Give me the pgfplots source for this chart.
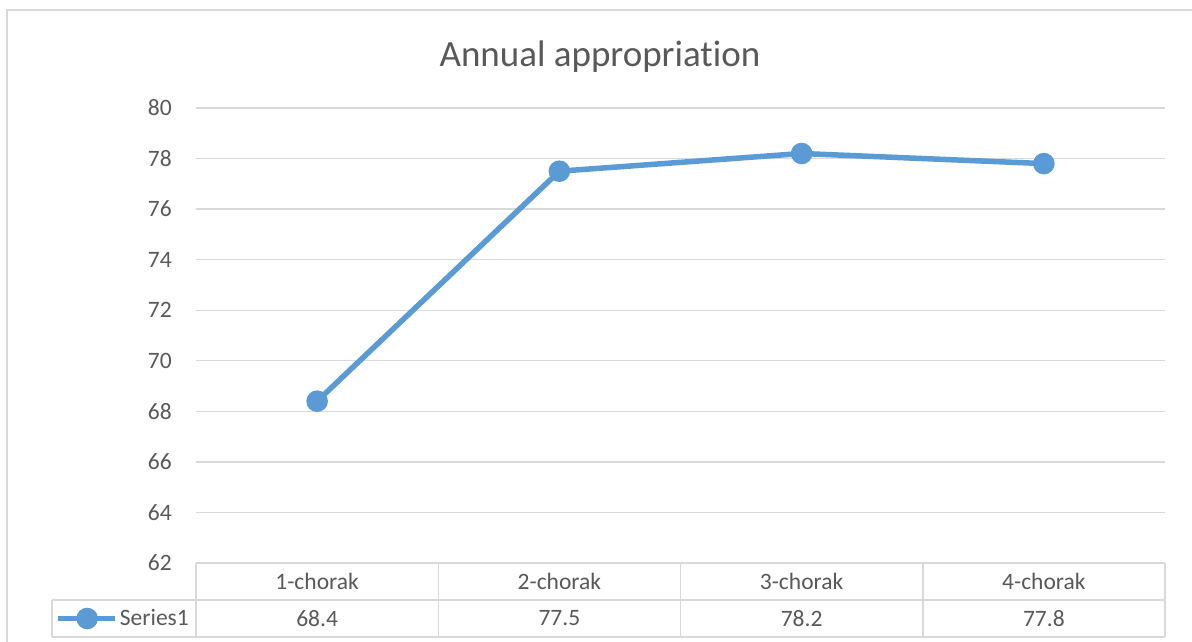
\documentclass[border=0pt]{standalone}
\usepackage{pgfplots}
\pgfplotsset{compat=1.18}
\usepackage{fontspec}
\setmainfont{Carlito}[Ligatures=NoCommon]
\definecolor{ser}{HTML}{5B9BD5}
\definecolor{grd}{HTML}{D9D9D9}
\definecolor{txt}{HTML}{595959}
\begin{document}
\begin{tikzpicture}[x=1pt,y=1pt]
\useasboundingbox (0,0) rectangle (1192,642);
\draw[grd, line width=1.5pt] (7,-20) -- (7,632) -- (1230,632);
\node[txt, font=\fontsize{37}{44}\selectfont] at (600,585) {Annual appropriat\kern0pt ion};
\begin{axis}[
  at={(196pt,79pt)}, anchor=south west,
  scale only axis, width=969pt, height=455pt,
  xmin=-0.5, xmax=3.5, ymin=62, ymax=80,
  ytick={62,64,...,80}, xtick=\empty,
  ymajorgrids, grid style={grd, line width=1.3pt},
  axis line style={draw=none},
  major tick length=0pt,
  clip=false,
  /pgf/number format/assume math mode=true,
  yticklabel style={font=\fontsize{23.5}{28}\selectfont, text=txt, inner sep=0pt, xshift=-24pt},
  legend style={at={(axis description cs:0,0)}, anchor=east, xshift=-5pt, yshift=-55.5pt,
    draw=none, fill=none, font=\fontsize{23.5}{28}\selectfont, text=txt, inner sep=0pt},
  legend image code/.code={\draw[ser, line width=5.5pt] (-21pt,0)--(36pt,0); \fill[ser] (8pt,0) circle (8pt);},
]
\addplot[ser, line width=5.5pt, mark=*, mark size=8pt, mark options={fill=ser, draw=ser}]
  coordinates {(0,68.4) (1,77.5) (2,78.2) (3,77.8)};
\addlegendentry{Series1}
\end{axis}
% data table
\begin{scope}[grd, line width=1.5pt]
\draw (196,79) -- (1165,79);
\draw (52,42) -- (1165,42);
\draw (52,5) -- (1165,5);
\draw (52,42) -- (52,5);
\foreach \xx in {196,438.25,680.5,922.75,1165} \draw (\xx,79) -- (\xx,5);
\end{scope}
\begin{scope}[txt, font=\fontsize{23.5}{28}\selectfont]
\node at (317.1,60.5) {1-chorak};
\node at (559.4,60.5) {2-chorak};
\node at (801.6,60.5) {3-chorak};
\node at (1043.9,60.5) {4-chorak};
\node at (317.1,23.5) {68.4};
\node at (559.4,23.5) {77.5};
\node at (801.6,23.5) {78.2};
\node at (1043.9,23.5) {77.8};
\end{scope}
\end{tikzpicture}
\end{document}
